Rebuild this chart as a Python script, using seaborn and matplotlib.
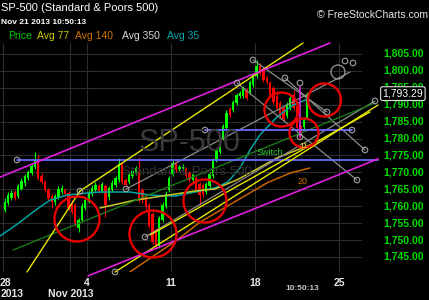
import numpy as np
import matplotlib
matplotlib.use("Agg")
import matplotlib.pyplot as plt
import seaborn as sns

# ---------------- data (bar index = hourly-ish bars from Oct 28, 5 per day) ----------------
opens = [1758.9,1760.9,1762.4,1764.2,1763.0,1765.1,1766.9,1768.3,1769.8,1771.6,
         1773.7,1768.9,1767.2,1764.8,1763.0,1761.2,1762.7,1764.2,1764.8,1763.9,
         1760.9,1760.4,1753.6,1755.9,1759.5,1761.2,1763.6,1764.8,1766.0,1764.5,
         1766.0,1762.7,1764.8,1766.3,1767.8,1772.5,1767.8,1767.2,1768.9,1769.8,
         1770.1,1764.8,1763.0,1760.4,1757.7,1753.0,1748.2,1755.9,1760.1,1764.8,
         1769.5,1772.8,1771.0,1771.3,1771.0,1769.8,1767.8,1768.3,1766.6,1766.3,
         1764.2,1766.0,1768.9,1773.7,1776.0,1780.2,1783.1,1788.7,1788.4,1790.5,
         1792.6,1792.6,1794.4,1793.8,1795.8,1798.5,1801.5,1800.3,1797.9,1796.4,
         1795.0,1792.6,1790.5,1789.0,1786.7,1789.0,1792.9,1789.6,1783.7,1783.4,
         1786.1]
closes = [1761.2,1763.3,1763.9,1762.4,1766.0,1767.5,1768.9,1770.1,1771.9,1773.7,
          1768.3,1767.2,1764.8,1762.4,1761.2,1763.0,1765.1,1765.4,1763.6,1759.5,
          1758.3,1755.0,1755.9,1760.1,1761.8,1763.9,1765.4,1766.3,1764.5,1766.6,
          1760.4,1765.4,1766.9,1768.3,1772.5,1767.2,1766.3,1769.5,1770.4,1771.3,
          1761.8,1761.8,1759.8,1754.2,1749.4,1748.5,1756.5,1760.4,1763.6,1768.3,
          1772.8,1770.7,1771.6,1771.9,1768.9,1767.8,1769.5,1764.8,1763.3,1763.6,
          1766.6,1769.5,1773.7,1776.6,1780.5,1783.7,1787.6,1787.0,1790.8,1792.9,
          1793.5,1795.0,1792.0,1796.7,1798.8,1801.5,1799.4,1797.3,1796.7,1792.9,
          1790.8,1789.0,1786.7,1785.8,1790.2,1792.0,1789.0,1783.1,1780.8,1785.5,
          1793.29]
highs = [1762.4,1764.2,1764.8,1764.8,1766.6,1768.3,1769.5,1770.7,1772.5,1776.0,
         1775.1,1769.8,1767.8,1765.4,1763.6,1763.6,1766.0,1766.3,1765.4,1764.5,
         1761.8,1760.9,1756.5,1760.9,1762.7,1764.8,1766.3,1767.2,1766.6,1767.2,
         1766.6,1766.0,1767.8,1768.9,1774.3,1773.1,1768.3,1770.1,1771.0,1771.9,
         1774.6,1765.4,1763.6,1760.9,1758.3,1753.6,1757.1,1761.2,1764.5,1768.9,
         1773.7,1773.4,1772.2,1772.5,1771.6,1770.4,1770.1,1768.9,1767.2,1766.9,
         1767.2,1770.1,1774.3,1777.2,1781.1,1784.3,1788.4,1789.3,1791.4,1793.5,
         1794.1,1795.5,1795.0,1797.3,1799.4,1803.2,1802.3,1800.9,1798.5,1797.0,
         1795.5,1793.2,1791.1,1789.6,1790.8,1792.6,1794.4,1790.2,1784.3,1786.1,
         1793.8]
lows = [1758.3,1760.4,1761.8,1761.8,1762.4,1764.8,1766.0,1767.8,1769.2,1771.0,
        1767.8,1766.6,1764.2,1761.8,1759.5,1760.4,1762.1,1763.6,1763.0,1758.9,
        1757.7,1754.2,1752.4,1755.3,1758.9,1760.9,1763.0,1764.2,1763.9,1763.9,
        1756.8,1761.8,1764.2,1765.7,1767.2,1766.6,1765.7,1766.6,1768.3,1769.2,
        1761.2,1760.9,1759.2,1753.6,1748.8,1747.4,1747.7,1755.3,1759.5,1764.2,
        1768.9,1770.1,1770.4,1770.7,1768.3,1767.2,1767.2,1764.2,1760.4,1762.7,
        1763.6,1765.4,1768.3,1773.1,1775.4,1779.6,1782.5,1786.4,1787.9,1789.9,
        1792.0,1792.0,1791.4,1793.2,1795.2,1797.9,1798.8,1796.7,1796.1,1792.3,
        1790.2,1788.4,1786.1,1785.2,1786.1,1788.4,1788.4,1782.5,1779.9,1782.5,
        1785.5]
last_price = 1793.29

# moving averages (bar index, price)
ma35_x = [-1.39, 4.56, 8.43, 13.49, 18.55, 24.50, 28.37, 37.30, 43.25, 50.69,
          56.64, 62.60, 66.46, 70.04, 73.01, 75.99, 81.05, 85.81, 90.27]
ma35_y = [1751.2, 1755.3, 1758.3, 1761.8, 1763.3, 1763.9, 1764.2, 1764.2, 1763.3, 1763.0,
          1764.2, 1765.4, 1767.2, 1771.3, 1776.6, 1781.1, 1786.4, 1789.9, 1791.7]
ma77_x = [28.37, 38.79, 46.82, 56.64, 62.60, 69.14, 75.10, 81.05, 87.00, 90.87]
ma77_y = [1759.5, 1761.8, 1763.0, 1764.5, 1765.1, 1767.8, 1771.0, 1774.3, 1776.6, 1778.1]
ma140_x = [37.30, 51.29, 58.13, 67.95, 78.07, 84.92, 90.87]
ma140_y = [1740.6, 1750.0, 1755.3, 1761.0, 1766.9, 1769.8, 1771.3]

# drawn trend lines: (x0, y0, x1, y1) in bar index / price
magenta_lines = [(-1.39, 1768.6, 96.82, 1808.25), (24.80, 1739.4, 111.11, 1774.0),
                 (87.89, 1795.25, 87.89, 1780.47)]
purple_lines = [(3.67, 1773.67, 111.11, 1773.67), (59.62, 1782.53, 103.37, 1782.53)]
yellow_lines = [(22.42, 1764.50, 88.79, 1808.25), (6.64, 1740.56, 22.42, 1764.50),
                (32.83, 1740.56, 111.11, 1789.92), (43.25, 1751.50, 108.73, 1787.86)]
green_lines = [(2.48, 1747.06, 110.21, 1790.52)]
gray_lines = [(36.11, 1765.09, 102.77, 1799.68), (41.76, 1750.91, 110.21, 1791.11),
              (73.90, 1803.23, 95.93, 1787.86), (69.14, 1796.43, 104.86, 1767.75),
              (83.43, 1797.91, 107.24, 1776.62)]
anchor_x = [3.67, 22.42, 36.11, 41.76, 59.62, 103.37, 69.14, 73.90, 83.43, 95.93,
            107.24, 104.86, 110.21, 32.83, 101.29, 103.67, 87.89, 87.89]
anchor_y = [1773.67, 1764.50, 1765.09, 1750.91, 1782.53, 1782.53, 1796.43, 1803.23, 1797.91, 1787.86,
            1776.62, 1767.75, 1791.11, 1740.56, 1802.93, 1802.34, 1796.43, 1780.47]
red_circle_x = [21.52, 44.14, 59.62, 82.39, 95.18, 89.08]
red_circle_y = [1756.23, 1751.79, 1761.55, 1788.59, 1791.40, 1781.65]
red_circle_r = [22.5, 23.5, 21.5, 17, 16.5, 14.5]   # radius in pixels (style)

price_ticks = [1745, 1750, 1755, 1760, 1765, 1770, 1775, 1780, 1785, 1790, 1795, 1800, 1805]
date_pos = [-0.5, 24.5, 49.5, 74.5, 99.5]
date_labels = ["28", "4", "11", "18", "25"]
month_line = 19.5

# ---------------- style ----------------
sns.set_style("dark", {"axes.facecolor": "black", "figure.facecolor": "black"})
plt.rcParams['font.family'] = ['Liberation Sans', 'DejaVu Sans']

W, H = 429, 300
fig = plt.figure(figsize=(W / 100, H / 100), dpi=100)
fig.patch.set_facecolor("black")
ax = fig.add_axes([0, (H - 272) / H, 362 / W, (272 - 43) / H])
ax.set_facecolor("black")
for s in ax.spines.values():
    s.set_visible(False)
ax.set_xlim(-1.393, 106.35)
ax.set_ylim(1740.56, 1808.25)
ax.set_xticks([])
ax.set_yticks([])
ax.grid(False)

gcol = "#2c2c2c"
for p in price_ticks:
    ax.axhline(p, color=gcol, lw=0.8, zorder=0)
for d in date_pos + [month_line]:
    ax.axvline(d, color=gcol, lw=0.8, zorder=0)

# watermark
fig.text(190 / W, 1 - 143 / H, "SP-500", color="#3a3a3a", fontsize=22, ha="center", va="center", zorder=0)
fig.text(187 / W, 1 - 172 / H, "Standard & Poors 500", color="#333333", fontsize=9.5, ha="center", va="center", zorder=0)

# candles
xb = np.arange(len(closes))
o = np.array(opens); c = np.array(closes); hi = np.array(highs); lo = np.array(lows)
cols = np.where(c >= o, "#00ff00", "#ff0000")
ax.vlines(xb, lo, hi, colors=cols, lw=0.8, zorder=3)
body_b = np.minimum(o, c)
body_h = np.maximum(np.abs(c - o), 0.35)
ax.bar(xb, body_h, bottom=body_b, width=0.7, color=cols, linewidth=0, zorder=3)

# moving averages
sns.lineplot(x=ma35_x, y=ma35_y, color="#00a4a4", lw=1.1, ax=ax, zorder=4, sort=False)
sns.lineplot(x=ma77_x, y=ma77_y, color="#c8c828", lw=1.1, ax=ax, zorder=4, sort=False)
sns.lineplot(x=ma140_x, y=ma140_y, color="#c86400", lw=1.1, ax=ax, zorder=4, sort=False)

def draw(lines, color, lw=1.0):
    for (x0, y0, x1, y1) in lines:
        ax.plot([x0, x1], [y0, y1], color=color, lw=lw, zorder=5, clip_on=False)

draw(gray_lines, "#8c8c8c", 0.9)
draw(green_lines, "#1a7a1a", 1.0)
draw(purple_lines, "#6a6aff", 1.3)
draw(yellow_lines, "#e8e800", 1.0)
draw(magenta_lines, "#e020e0", 1.2)

ax.scatter(anchor_x, anchor_y, s=16, facecolors="none", edgecolors="#a0a0a0", linewidths=0.8, zorder=6, clip_on=False)
ax.scatter([99.2], [1799.68], s=(2 * 7 * 0.72) ** 2, facecolors="none", edgecolors="#9a9a9a", linewidths=0.9, zorder=6)
ax.scatter(red_circle_x, red_circle_y, s=[(2 * r * 0.72) ** 2 for r in red_circle_r],
           facecolors="none", edgecolors="#e80000", linewidths=1.7, zorder=7)

ax.text(78.96, 1776.0, "Switch", color="#2ec82e", fontsize=6.5, ha="center", va="center", zorder=8)
ax.text(88.79, 1767.4, "20", color="#d06a00", fontsize=6.5, ha="center", va="center", zorder=8)
ax.text(89.08, 1777.8, "11", color="#e8e800", fontsize=6, ha="center", va="center", zorder=8)

# price labels on the right
ytr = ax.get_yaxis_transform()
for p in price_ticks:
    ax.text(383 / 362, p, f"{p:,.2f}", transform=ytr, color="#00dd00", fontsize=7.5,
            fontweight="bold", ha="left", va="center", clip_on=False)
ax.text(382.5 / 362, last_price, f"{last_price:,.2f}", transform=ytr, color="white", fontsize=7.5,
        ha="left", va="center", clip_on=False, zorder=10,
        bbox=dict(boxstyle="round,pad=0.18", fc="black", ec="#dddddd", lw=0.8))

# date labels
xtr = ax.get_xaxis_transform()
for d, lab in zip(date_pos, date_labels):
    ha = "left" if d < 0 else "center"
    xx = ax.get_xlim()[0] if d < 0 else d
    ax.text(xx, -11 / 229, lab, transform=xtr, color="#e6e6e6", fontsize=7.5, fontweight="bold",
            ha=ha, va="center", clip_on=False)
fig.text(1 / W, 1 - 294 / H, "2013", color="#e6e6e6", fontsize=7.5, fontweight="bold", ha="left", va="center")
fig.text(48 / W, 1 - 294 / H, "Nov 2013", color="#e6e6e6", fontsize=7.5, fontweight="bold", ha="left", va="center")
fig.text(285 / W, 1 - 289 / H, "10:50:13", color="#c8c8c8", fontsize=6, fontweight="bold", ha="left", va="center")

# header
fig.text(1 / W, 1 - 8 / H, "SP-500 (Standard & Poors 500)", color="white", fontsize=8, ha="left", va="center")
fig.text(1 / W, 1 - 22 / H, "Nov 21 2013 10:50:13", color="white", fontsize=6, fontweight="bold", ha="left", va="center")
legend_items = [("Price", 8, "#00cc00"), ("Avg 77", 37, "#cccc00"), ("Avg 140", 75, "#d07000"),
                ("Avg 350", 122, "#d8d8d8"), ("Avg 35", 167, "#00a8b0")]
for lab, xp, col in legend_items:
    fig.text(xp / W, 1 - 36 / H, lab, color=col, fontsize=7.5, ha="left", va="center")
fig.text(428 / W, 1 - 15 / H, "\u00a9 FreeStockCharts.com", color="#e6e6e6", fontsize=7.5, ha="right", va="center")

fig.savefig("out.png", dpi=100, facecolor="black")
